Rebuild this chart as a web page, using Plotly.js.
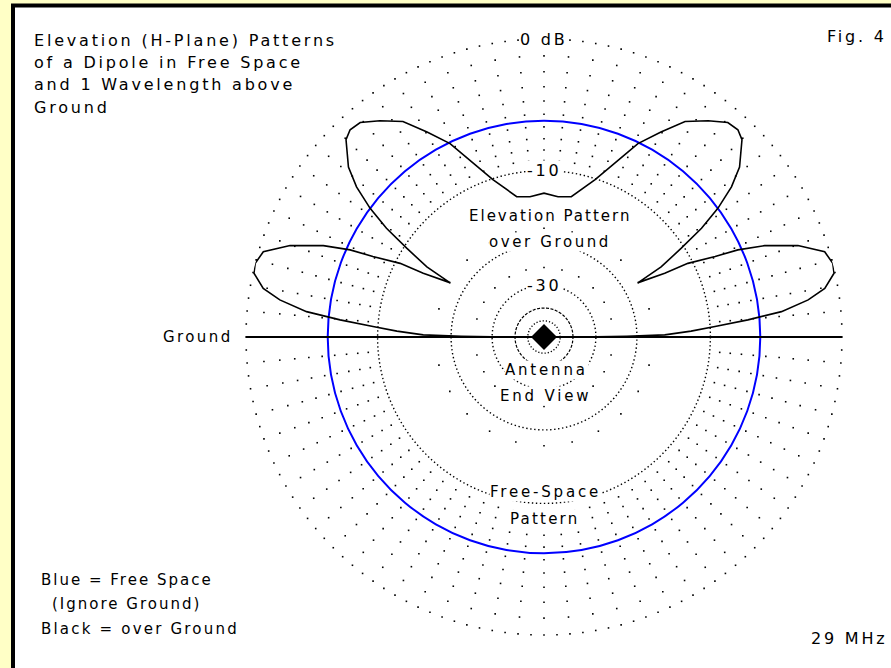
<!DOCTYPE html>
<html><head><meta charset="utf-8">
<script src="https://cdn.plot.ly/plotly-3.0.1.min.js"></script>
<style>
html,body{margin:0;padding:0;background:#fff;}
#chart{width:891px;height:668px;}
</style></head><body><div id="chart"></div>
<script>
// ---- data (elevation angle from horizon, dB rel. max) ----
const elevationDeg = [0, 0.25, 0.5, 1, 2.3, 3.5, 4.8, 6.1, 8, 9.8, 12.4, 14.3, 16.9, 19.8, 22.5, 24.2, 25.2, 27.1, 27.8, 30, 30.9, 32.9, 34.6, 36.5, 38.7, 41, 44.9, 46.9, 49.4, 52.8, 56.8, 60.3, 64.1, 67.8, 72, 79, 84.3, 90];
const groundPatternDb = [-80, -30, -22, -15.5, -12.1, -9.5, -6.45, -3.8, -1.9, -0.77, -0.06, 0, -0.27, -1.7, -3.8, -5.8, -7.8, -10.5, -13.4, -17.3, -13.4, -10.3, -7.6, -5.5, -3.7, -2.4, -1.1, -0.84, -0.92, -1.6, -2.5, -4.0, -5.6, -7.9, -10.1, -12.6, -12.85, -12.5];
const freeSpaceThetaDeg = [0,10,20,30,40,50,60,70,80,90,100,110,120,130,140,150,160,170,180,190,200,210,220,230,240,250,260,270,280,290,300,310,320,330,340,350,360];
const freeSpaceDb = [-5.5,-5.5,-5.5,-5.5,-5.5,-5.5,-5.5,-5.5,-5.5,-5.5,-5.5,-5.5,-5.5,-5.5,-5.5,-5.5,-5.5,-5.5,-5.5,-5.5,-5.5,-5.5,-5.5,-5.5,-5.5,-5.5,-5.5,-5.5,-5.5,-5.5,-5.5,-5.5,-5.5,-5.5,-5.5,-5.5,-5.5];
// grid rings (dB) and the angular spacing of their dots
const sparseRingsDb = [0, -1, -2, -3, -4, -5, -6, -7, -8, -9, -17.3, -25];
const sparseRingStepDeg = [2.5, 5, 5, 5, 5, 5, 5, 5, 5, 5, 15, 15];
const denseRingsDb = [-10, -20, -30, -40, -50];
const denseRingDash = ['1.4px,2.6px', '1.4px,2.6px', '1.4px,2.6px', '3px,1.5px', '1.2px,2px'];
const tickLabels = ['0 dB', '-10', '-30'];
const tickLabelDb = [0, -10, -30];

// ---- ARRL log-periodic radial scale ----
const arrl = db => Math.pow(0.89, -db / 2);

const W = 891, H = 668, CX = 544, CY = 337, R = 298;
const px = x => x / W, py = y => 1 - y / H;

const traces = [];
sparseRingsDb.forEach((db, i) => {
  const th = [], r = [];
  for (let a = 0; a < 360; a += sparseRingStepDeg[i]) { th.push(a); r.push(arrl(db)); }
  traces.push({type: 'scatterpolar', mode: 'markers', r, theta: th,
    marker: {symbol: 'square', size: 1.6, color: '#000'}, hoverinfo: 'skip', showlegend: false});
});
denseRingsDb.forEach((db, i) => {
  const th = [], r = [];
  for (let a = 0; a <= 360; a += 1) { th.push(a); r.push(arrl(db)); }
  traces.push({type: 'scatterpolar', mode: 'lines', r, theta: th,
    line: {color: '#000', width: i === 3 ? 1.2 : 1.4, dash: denseRingDash[i]}, hoverinfo: 'skip', showlegend: false});
});
traces.push({type: 'scatterpolar', mode: 'lines', r: freeSpaceDb.map(arrl), theta: freeSpaceThetaDeg,
  line: {color: '#0000ff', width: 2, shape: 'spline'}, hoverinfo: 'skip', showlegend: false});
traces.push({type: 'scatterpolar', mode: 'lines', r: [arrl(0), arrl(0)], theta: [0, 180],
  line: {color: '#000', width: 2}, hoverinfo: 'skip', showlegend: false});
const gTheta = [], gR = [];
elevationDeg.forEach((e, i) => { gTheta.push(e); gR.push(arrl(groundPatternDb[i])); });
for (let i = elevationDeg.length - 2; i >= 0; i--) { gTheta.push(180 - elevationDeg[i]); gR.push(arrl(groundPatternDb[i])); }
traces.push({type: 'scatterpolar', mode: 'lines', r: gR, theta: gTheta,
  line: {color: '#000', width: 1.6}, hoverinfo: 'skip', showlegend: false});
traces.push({type: 'scatterpolar', mode: 'markers', r: [0], theta: [0],
  marker: {symbol: 'diamond', size: 20, color: '#000'}, hoverinfo: 'skip', showlegend: false});

function ann(text, x, y, xanchor, bg, size, spacing) {
  return {text: '<span style="letter-spacing:' + spacing + 'px">' + text + '</span>',
    x: px(x), y: py(y), xref: 'paper', yref: 'paper', xanchor, yanchor: 'middle',
    showarrow: false, font: {family: 'DejaVu Sans, Arial, sans-serif', size, color: '#000'},
    bgcolor: bg ? '#fff' : 'rgba(0,0,0,0)', borderpad: 0};
}
const annotations = [
  ann('Elevation (H-Plane) Patterns', 33, 40, 'left', false, 16, 2.8),
  ann('of a Dipole in Free Space', 33, 62.5, 'left', false, 16, 2.8),
  ann('and 1 Wavelength above', 33, 85, 'left', false, 16, 2.8),
  ann('Ground', 33, 107.5, 'left', false, 16, 2.8),
  ann('Fig. 4', 888, 37, 'right', false, 16, 2.8),
  ann('Elevation Pattern', 550, 216, 'center', true, 15, 2),
  ann('over Ground', 550, 242, 'center', true, 15, 2.6),
  ann('Ground', 234, 337, 'right', true, 15, 2.4),
  ann('Antenna', 546, 370, 'center', true, 15, 2.8),
  ann('End View', 545, 396, 'center', true, 15, 2.8),
  ann('Free-Space', 545, 492, 'center', true, 15, 2.8),
  ann('Pattern', 544, 519, 'center', true, 15, 2.2),
  ann('Blue = Free Space', 40, 580, 'left', false, 15, 2),
  ann('(Ignore Ground)', 51, 604, 'left', false, 15, 2),
  ann('Black = over Ground', 40, 629, 'left', false, 15, 2.2),
  ann('29 MHz', 888, 638, 'right', false, 16, 2.8)
];
tickLabels.forEach((t, i) => annotations.push(ann(t, CX, CY - R * arrl(tickLabelDb[i]), 'center', true, 16, 2.8)));

const layout = {
  width: W, height: H, margin: {l: 0, r: 0, t: 0, b: 0},
  paper_bgcolor: '#ffffc6', plot_bgcolor: 'rgba(0,0,0,0)',
  showlegend: false,
  polar: {
    domain: {x: [px(CX - R), px(CX + R)], y: [py(CY + R), py(CY - R)]},
    bgcolor: 'rgba(0,0,0,0)',
    radialaxis: {range: [0, 1], visible: false, showgrid: false, showline: false},
    angularaxis: {visible: false, showgrid: false, showline: false, rotation: 0, direction: 'counterclockwise'}
  },
  shapes: [{type: 'rect', xref: 'paper', yref: 'paper', layer: 'below',
    x0: px(13), y0: py(5.5), x1: px(960), y1: py(740),
    line: {color: '#000', width: 4}, fillcolor: '#fff'}],
  annotations
};
Plotly.newPlot('chart', traces, layout, {staticPlot: true, displayModeBar: false});
</script></body></html>
